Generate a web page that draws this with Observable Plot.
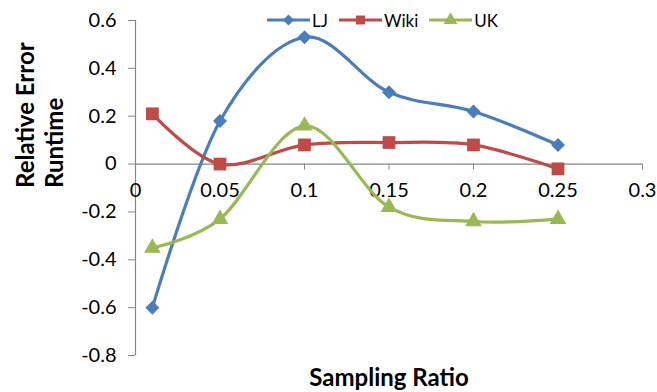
<!DOCTYPE html>
<html><head><meta charset="utf-8">
<script src="https://cdn.jsdelivr.net/npm/d3@7"></script>
<script src="https://cdn.jsdelivr.net/npm/@observablehq/plot@0.6"></script>
<style>
html,body{margin:0;padding:0;background:#fff;}
#wrap{position:relative;width:657px;height:392px;font-family:Lato, "Open Sans", sans-serif;}
#legend{position:absolute;top:10px;left:267px;display:flex;align-items:center;font-size:17px;color:#000;gap:11px;height:20px;}
.item{display:flex;align-items:center;gap:2px;}
.item svg{display:block;}
</style></head><body><div id="wrap"><div id="legend"></div></div>
<script>
const ratios = [0.01, 0.05, 0.1, 0.15, 0.2, 0.25];
const seriesNames = ["LJ", "Wiki", "UK"];
const ljValues = [-0.60, 0.18, 0.53, 0.30, 0.22, 0.08];
const wikiValues = [0.21, 0.00, 0.08, 0.09, 0.08, -0.02];
const ukValues = [-0.35, -0.23, 0.16, -0.18, -0.24, -0.23];
const xTicks = [0, 0.05, 0.1, 0.15, 0.2, 0.25, 0.3];
const yTicks = [-0.8, -0.6, -0.4, -0.2, 0, 0.2, 0.4, 0.6];
const xTitle = "Sampling Ratio";
const yTitle = "Relative Error\nRuntime";

const colors = ["#4A7EBB", "#BE4B48", "#98B954"];
const symbols = ["diamond2", "square", "triangle"];
const markerR = [6.3, 7.2, 6.2];

const valuesBySeries = [ljValues, wikiValues, ukValues];
const rows = [];
seriesNames.forEach((s, i) => ratios.forEach((r, j) => rows.push({series: s, ratio: r, value: valuesBySeries[i][j]})));

const W = 657, H = 392, mt = 20, mb = 37, ml = 135, mr = 15;
const yDom = [d3.min(yTicks), d3.max(yTicks)];
const yScale = d3.scaleLinear().domain(yDom).range([H - mb, mt]);
const xAxisDy = yScale(0) - (H - mb);
const fmt = d => String(+d.toFixed(2));
const axisGray = "#868686";

const seriesMarks = seriesNames.flatMap((s, i) => {
  const data = rows.filter(d => d.series === s);
  return [
    Plot.line(data, {x: "ratio", y: "value", stroke: colors[i], strokeWidth: 3.2, curve: "cardinal", tension: 0}),
    Plot.dot(data, {x: "ratio", y: "value", symbol: () => symbols[i], fill: colors[i], r: markerR[i], stroke: "none"})
  ];
});

const chart = Plot.plot({
  width: W, height: H,
  marginTop: mt, marginBottom: mb, marginLeft: ml, marginRight: mr,
  style: {fontFamily: "Lato, 'Open Sans', sans-serif", fontSize: "20px", color: "#000", background: "#fff", overflow: "visible"},
  x: {domain: [0, 0.3]},
  y: {domain: yDom},
  symbol: {domain: seriesNames, range: symbols},
  marks: [
    Plot.ruleX([0], {stroke: axisGray, strokeWidth: 1.2}),
    Plot.ruleY([0], {stroke: axisGray, strokeWidth: 1.2}),
    Plot.axisY(yTicks, {anchor: "left", tickSize: 7, tickPadding: 12, tickFormat: fmt, stroke: axisGray, fill: "#000", label: null, fontSize: 20}),
    Plot.axisX(xTicks, {anchor: "bottom", tickSize: 6, tickPadding: 13, tickFormat: fmt, stroke: axisGray, fill: "#000", label: null, dy: xAxisDy, fontSize: 20}),
    ...seriesMarks,
    Plot.text([xTitle], {frameAnchor: "bottom", dy: 23, lineAnchor: "middle", fontWeight: "bold", fontSize: 24, fill: "#000"}),
    Plot.text([yTitle], {frameAnchor: "left", rotate: -90, dx: -96, lineAnchor: "middle", lineHeight: 1.2, fontWeight: "bold", fontSize: 24, fill: "#000"})
  ]
});
document.getElementById("wrap").prepend(chart);

// legend
const legend = d3.select("#legend");
const symMap = {diamond2: d3.symbolDiamond2, square: d3.symbolSquare, triangle: d3.symbolTriangle};
seriesNames.forEach((s, i) => {
  const item = legend.append("div").attr("class", "item");
  const svg = item.append("svg").attr("width", 43).attr("height", 14);
  svg.append("line").attr("x1", 0).attr("x2", 43).attr("y1", 7).attr("y2", 7).attr("stroke", colors[i]).attr("stroke-width", 3.2);
  svg.append("path").attr("transform", "translate(21.5,7)").attr("fill", colors[i])
    .attr("d", d3.symbol(symMap[symbols[i]], 80)());
  item.append("span").text(s);
});
</script>
</body></html>
